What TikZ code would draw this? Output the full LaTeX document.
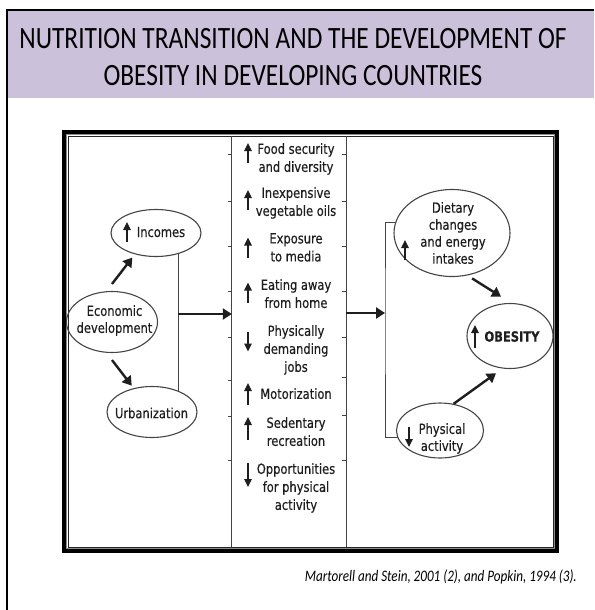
\documentclass[tikz,border=0pt]{standalone}
\usepackage{fontspec}
\setmainfont{Carlito}
\newfontfamily\headfont[FakeStretch=0.82]{Carlito}
\newfontfamily\figfont[FakeStretch=0.82,FakeBold=0.35]{DejaVu Sans}
\usetikzlibrary{positioning,arrows.meta,shapes.geometric}
\definecolor{cBand}{HTML}{CCC1DA}
\definecolor{cInk}{HTML}{1E1E1E}
\definecolor{cLine}{HTML}{444444}
\tikzset{
  node-oval/.style={draw=cLine,line width=1.1pt,ellipse,inner sep=0pt},
  node-txt/.style={inner sep=0pt,align=center,text=cInk,
    font=\figfont\fontsize{14}{17}\selectfont},
  node-item/.style={node-txt,anchor=north,
    font=\figfont\fontsize{14}{18}\selectfont},
  dir-up/.style={inner sep=0pt,minimum width=10pt,minimum height=#1,
    path picture={\draw[cInk,line width=1.6pt,-{Triangle[length=8pt,width=7.5pt]}]
      (path picture bounding box.south) -- (path picture bounding box.north);}},
  dir-up/.default=20pt,
  dir-down/.style={inner sep=0pt,minimum width=10pt,minimum height=#1,
    path picture={\draw[cInk,line width=1.6pt,-{Triangle[length=8pt,width=7.5pt]}]
      (path picture bounding box.north) -- (path picture bounding box.south);}},
  dir-down/.default=20pt,
  arrow/.style={-{Triangle[length=9pt,width=11pt]},line width=2.4pt,draw=cInk},
  link/.style={draw=cLine,line width=1pt},
}

\begin{document}
\begin{tikzpicture}[x=1pt,y=-1pt]
  \useasboundingbox (0,0) rectangle (594,610);
  \fill[white] (0,0) rectangle (594,610);
  % slide header
  \fill[cBand] (8,11) rectangle (594,98);
  \draw[line width=2pt] (7,610) -- (7,10) -- (594,10);
  \node[anchor=north,inner sep=0pt,align=center,
    font=\headfont\fontsize{31}{37}\selectfont] (title) at (293,28)
    {NUTRITION TRANSITION AND THE DEVELOPMENT OF\\OBESITY IN DEVELOPING COUNTRIES};
  % figure frame
  \draw[line width=4pt] (64,132) rectangle (557,551);
  \draw[black!45,line width=1pt] (66.5,134.5) rectangle (554.5,548.5);
  \draw[black!85,line width=0.8pt] (68,136) rectangle (553.5,547.5);

  % left: economic development
  \node[node-oval,minimum width=91pt,minimum height=61pt] (econ) at (112,322) {};
  \node[node-txt] (econ-t) at (114.5,320.5) {Economic\\development};
  \node[node-oval,minimum width=90pt,minimum height=47pt] (inc) at (156,233) {};
  \node[node-txt] (inc-t) at (161,232) {Incomes};
  \node[dir-up] (inc-up) at (127,232) {};
  \node[node-oval,minimum width=90pt,minimum height=51pt] (urb) at (152,412) {};
  \node[node-txt] (urb-t) at (151.5,413) {Urbanization};
  \draw[arrow] ([yshift=7pt]econ.north) -- ([yshift=-4pt]inc.221);
  \draw[arrow] ([yshift=-7pt]econ.south) -- ([yshift=3pt]urb.131);
  \draw[link] (inc.317) -- (inc.317 |- urb.38);
  \coordinate (jl) at (178,314);

  % middle column
  \node[minimum width=114pt,minimum height=411pt,inner sep=0pt] (mid) at (289,341.5) {};
  \draw[link] (mid.north west) -- (mid.south west);
  \draw[link] (mid.north east) -- (mid.south east);
  \draw[link] (228,154) -- (232,154) (342,154) -- (346,154);
  \draw[link] (228,201) -- (232,201) (342,201) -- (346,201);
  \draw[link] (228,246) -- (232,246) (342,246) -- (346,246);
  \draw[link] (228,291) -- (232,291) (342,291) -- (346,291);
  \draw[link] (228,337) -- (232,337) (342,337) -- (346,337);
  \draw[link] (228,380) -- (232,380) (342,377) -- (346,377);
  \draw[link] (228,416) -- (232,416) (342,415) -- (346,415);
  \draw[link] (228,460) -- (232,460) (342,460) -- (346,460);
  \node[node-item] (it1) at (296,143) {Food security\\and diversity};
  \node[dir-up] (d1) at (248,153) {};
  \node[node-item] (it2) at (296,187) {Inexpensive\\vegetable oils};
  \node[dir-up] (d2) at (248,200) {};
  \node[node-item] (it3) at (296,233) {Exposure\\to media};
  \node[dir-up] (d3) at (248,247.5) {};
  \node[node-item] (it4) at (296,279) {Eating away\\from home};
  \node[dir-up] (d4) at (248,292.5) {};
  \node[node-item] (it5) at (296,325) {Physically\\demanding\\jobs};
  \node[dir-down] (d5) at (248,341.5) {};
  \node[node-item] (it6) at (296,388) {Motorization};
  \node[dir-up=22pt] (d6) at (248,394) {};
  \node[node-item] (it7) at (296,417) {Sedentary\\recreation};
  \node[dir-up=23pt] (d7) at (248,428.5) {};
  \node[node-item] (it8) at (296,463) {Opportunities\\for physical\\activity};
  \node[dir-down=24pt] (d8) at (248,475) {};
  \draw[arrow] (jl) -- (jl -| mid.west);

  % right: outcomes
  \coordinate (jr) at (385,313);
  \node[node-oval,minimum width=116pt,minimum height=87pt] (diet) at (452,233) {};
  \node[node-txt] (diet-t) at (453,233) {Dietary\\changes\\and energy\\intakes};
  \node[dir-up] (diet-up) at (405,250) {};
  \node[node-oval,minimum width=86pt,minimum height=65pt] (obes) at (510,336) {};
  \node[node-txt,font=\figfont\bfseries\fontsize{14}{17}\selectfont] (obes-t) at (512,336.5) {OBESITY};
  \node[dir-up=23pt] (obes-up) at (475,336.5) {};
  \node[node-oval,minimum width=87pt,minimum height=55pt] (phys) at (440,430.5) {};
  \node[node-txt] (phys-t) at (442,438.5) {Physical\\activity};
  \node[dir-down] (phys-dn) at (409,437) {};
  \draw[arrow] (jr -| mid.east) -- (jr);
  \draw[link] (diet.170) -| (jr) |- (phys.190);
  \draw[arrow,shorten <=5.5pt,shorten >=12pt] (diet.290) -- (obes.88);
  \draw[arrow,shorten >=8pt] (phys.63) -- (obes.257);

  % source
  \node[anchor=base east,inner sep=0pt,
    font=\headfont\itshape\fontsize{16}{19}\selectfont] (cite) at (577,581)
    {Martorell and Stein, 2001 (2), and Popkin, 1994 (3).};
\end{tikzpicture}
\end{document}
